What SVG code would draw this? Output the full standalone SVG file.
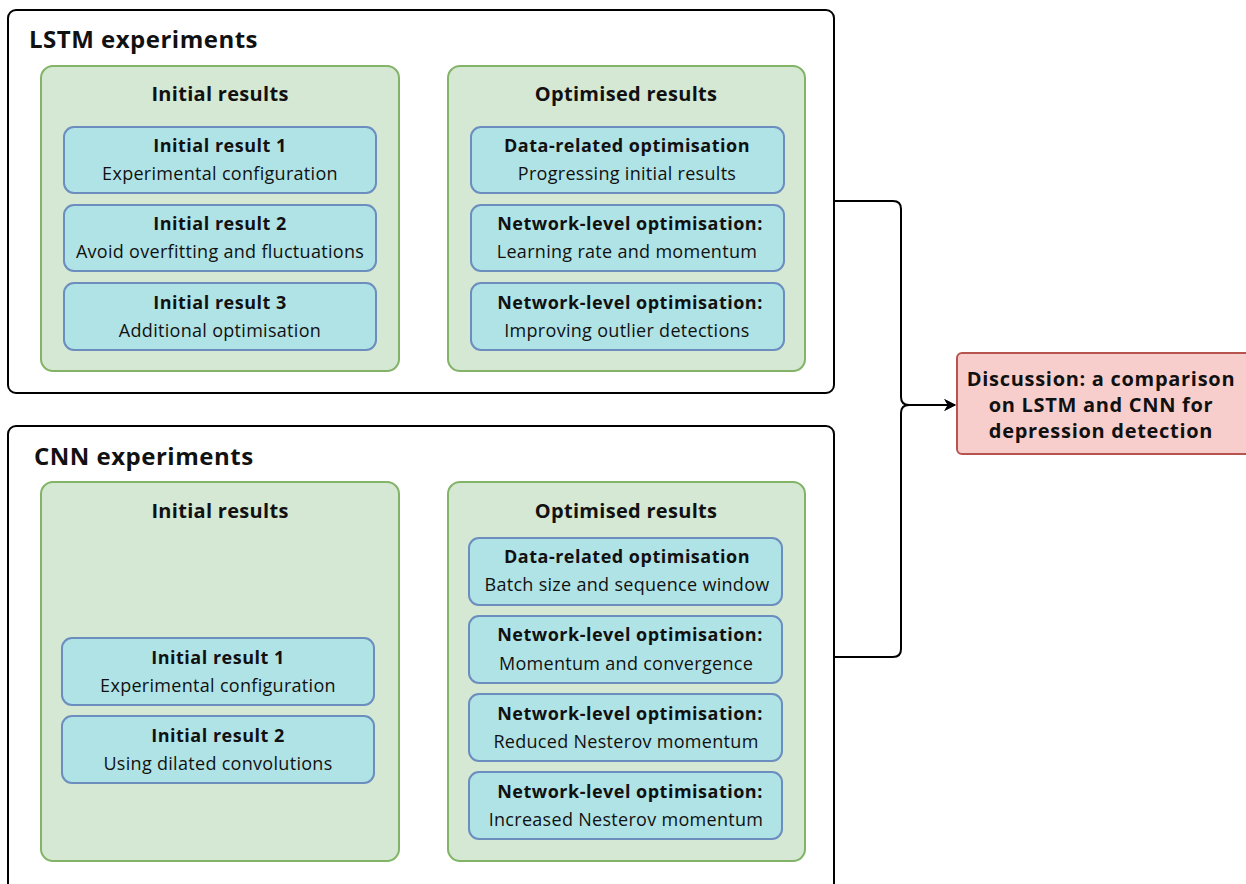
<svg xmlns="http://www.w3.org/2000/svg" width="1246" height="884" viewBox="0 0 1246 884">
<defs>
<style>
text{font-family:"Open Sans","Noto Sans",sans-serif;fill:#111;text-anchor:middle}
.outer{fill:#fff;stroke:#000;stroke-width:2}
.grp{fill:#d5e8d4;stroke:#82b366;stroke-width:2}
.node{fill:#b0e3e6;stroke:#6c8ebf;stroke-width:2}
.red{fill:#f8cecc;stroke:#b85450;stroke-width:2}
.h1{font-size:24px;font-weight:bold;text-anchor:start;letter-spacing:0.5px}
.h2{font-size:20px;font-weight:bold;letter-spacing:0.3px}
.t{font-size:18px;font-weight:bold;letter-spacing:0.5px}
.s{font-size:18px;letter-spacing:0.3px}
.d{font-size:20px;font-weight:bold;letter-spacing:0.7px}
.conn{fill:none;stroke:#000;stroke-width:2}
</style>
<marker id="arr" viewBox="0 0 10 10" refX="9" refY="5" markerWidth="12" markerHeight="12" markerUnits="userSpaceOnUse" orient="auto"><path d="M0,0 L10,5 L0,10 L3,5 Z" fill="#000"/></marker>
</defs>
<g id="lstm">
<rect class="outer" x="8" y="10" width="826" height="383" rx="8"/>
<text class="h1" x="29" y="48">LSTM experiments</text>
</g>
<g id="lstm-initial">
<rect class="grp" x="41" y="66" width="358" height="305" rx="12"/>
<text class="h2" x="220" y="101">Initial results</text>
</g>
<g id="lstm-i1"><rect class="node" x="64" y="127" width="312" height="66" rx="10"/><text class="t" x="220" y="152">Initial result 1</text><text class="s" x="220" y="180">Experimental configuration</text></g>
<g id="lstm-i2"><rect class="node" x="64" y="205" width="312" height="66" rx="10"/><text class="t" x="220" y="230">Initial result 2</text><text class="s" x="220" y="258">Avoid overfitting and fluctuations</text></g>
<g id="lstm-i3"><rect class="node" x="64" y="283" width="312" height="67" rx="10"/><text class="t" x="220" y="309">Initial result 3</text><text class="s" x="220" y="337">Additional optimisation</text></g>
<g id="lstm-opt">
<rect class="grp" x="448" y="66" width="357" height="305" rx="12"/>
<text class="h2" x="626" y="101">Optimised results</text>
</g>
<g id="lstm-o1"><rect class="node" x="471" y="127" width="313" height="66" rx="10"/><text class="t" x="627" y="152">Data-related optimisation</text><text class="s" x="627" y="180">Progressing initial results</text></g>
<g id="lstm-o2"><rect class="node" x="471" y="205" width="313" height="66" rx="10"/><text class="t" x="630" y="230">Network-level optimisation:</text><text class="s" x="627" y="258">Learning rate and momentum</text></g>
<g id="lstm-o3"><rect class="node" x="471" y="283" width="313" height="67" rx="10"/><text class="t" x="630" y="309">Network-level optimisation:</text><text class="s" x="627" y="337">Improving outlier detections</text></g>

<g id="cnn">
<rect class="outer" x="8" y="426" width="826" height="470" rx="8"/>
<text class="h1" x="34" y="465">CNN experiments</text>
</g>
<g id="cnn-initial">
<rect class="grp" x="41" y="482" width="358" height="379" rx="12"/>
<text class="h2" x="220" y="518">Initial results</text>
</g>
<g id="cnn-i1"><rect class="node" x="62" y="638" width="312" height="67" rx="10"/><text class="t" x="218" y="664">Initial result 1</text><text class="s" x="218" y="692">Experimental configuration</text></g>
<g id="cnn-i2"><rect class="node" x="62" y="716" width="312" height="67" rx="10"/><text class="t" x="218" y="742">Initial result 2</text><text class="s" x="218" y="770">Using dilated convolutions</text></g>
<g id="cnn-opt">
<rect class="grp" x="448" y="482" width="357" height="379" rx="12"/>
<text class="h2" x="626" y="518">Optimised results</text>
</g>
<g id="cnn-o1"><rect class="node" x="469" y="538" width="313" height="67" rx="10"/><text class="t" x="627" y="563">Data-related optimisation</text><text class="s" x="627" y="591">Batch size and sequence window</text></g>
<g id="cnn-o2"><rect class="node" x="469" y="616" width="313" height="67" rx="10"/><text class="t" x="630" y="641">Network-level optimisation:</text><text class="s" x="626" y="670">Momentum and convergence</text></g>
<g id="cnn-o3"><rect class="node" x="469" y="694" width="313" height="67" rx="10"/><text class="t" x="630" y="720">Network-level optimisation:</text><text class="s" x="626" y="748">Reduced Nesterov momentum</text></g>
<g id="cnn-o4"><rect class="node" x="469" y="772" width="313" height="67" rx="10"/><text class="t" x="630" y="798">Network-level optimisation:</text><text class="s" x="626" y="826">Increased Nesterov momentum</text></g>

<g id="discussion">
<rect class="red" x="957" y="353" width="298" height="101" rx="5"/>
<text class="d" x="1101" y="386">Discussion: a comparison</text>
<text class="d" x="1101" y="412">on LSTM and CNN for</text>
<text class="d" x="1101" y="438">depression detection</text>
</g>

<g id="connectors">
<path class="conn" d="M834,201 H893 Q901,201 901,209 V397 Q901,405 909,405 H955" marker-end="url(#arr)"/>
<path class="conn" d="M834,657 H893 Q901,657 901,649 V413 Q901,405 909,405 H955" marker-end="url(#arr)"/>
</g>
</svg>
